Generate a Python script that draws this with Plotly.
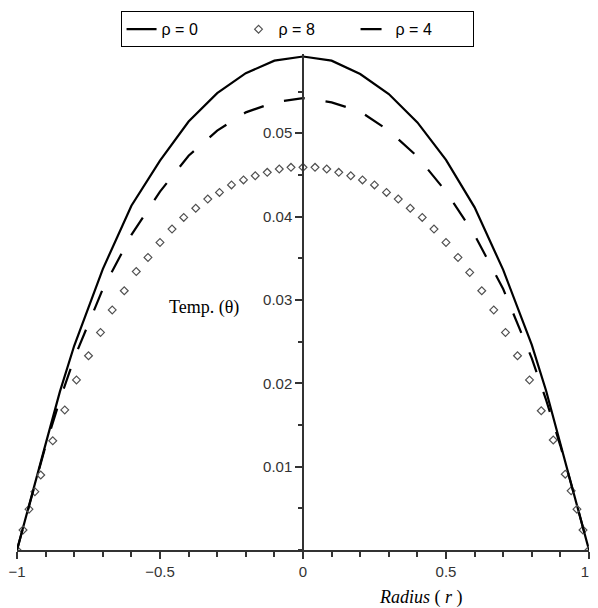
import plotly.graph_objects as go

# Radius samples for the continuous curves
r_line = [-1.0, -0.95, -0.9, -0.85, -0.8, -0.7, -0.6, -0.5, -0.4, -0.3, -0.2, -0.1, 0.0,
          0.1, 0.2, 0.3, 0.4, 0.5, 0.6, 0.7, 0.8, 0.85, 0.9, 0.95, 1.0]

# rho = 0 (solid)
theta_rho0 = [0.0, 0.0065, 0.0127, 0.0190, 0.0245, 0.0337, 0.0413, 0.0467, 0.0514, 0.0548, 0.0572, 0.0587, 0.0592,
              0.0587, 0.0571, 0.0547, 0.0513, 0.0468, 0.0411, 0.0336, 0.0246, 0.0191, 0.0128, 0.0065, 0.0]

# rho = 4 (dashed)
theta_rho4 = [0.0, 0.0064, 0.0125, 0.0180, 0.0230, 0.0313, 0.0378, 0.0430, 0.0473, 0.0503, 0.0525, 0.0537, 0.0542,
              0.0537, 0.0526, 0.0503, 0.0472, 0.0430, 0.0378, 0.0313, 0.0230, 0.0180, 0.0125, 0.0064, 0.0]

# rho = 8 (diamond points)
r_pts = [-1.0, -0.979, -0.958, -0.9375, -0.917, -0.875, -0.833, -0.792, -0.75, -0.708, -0.667, -0.625,
         -0.583, -0.542, -0.5, -0.458, -0.417, -0.375, -0.333, -0.292, -0.25, -0.208, -0.167, -0.125,
         -0.083, -0.042, 0.0, 0.042, 0.083, 0.125, 0.167, 0.208, 0.25, 0.292, 0.333, 0.375, 0.417,
         0.458, 0.5, 0.542, 0.583, 0.625, 0.667, 0.708, 0.75, 0.792, 0.833, 0.875, 0.917, 0.9375,
         0.958, 0.979, 1.0]
theta_rho8 = [0.0, 0.0024, 0.0049, 0.0070, 0.0090, 0.0131, 0.0168, 0.0204, 0.0233, 0.0261, 0.0288, 0.0311,
              0.0334, 0.0351, 0.0369, 0.0385, 0.0399, 0.0410, 0.0421, 0.0429, 0.0438, 0.0444, 0.0449, 0.0453,
              0.0457, 0.0459, 0.0459, 0.0459, 0.0457, 0.0453, 0.0449, 0.0444, 0.0438, 0.0429, 0.0421, 0.0410, 0.0399,
              0.0385, 0.0369, 0.0351, 0.0333, 0.0311, 0.0288, 0.0261, 0.0233, 0.0204, 0.0167, 0.0132, 0.0091, 0.0071,
              0.0049, 0.0024, 0.0]

x_tickvals = [-1, -0.5, 0, 0.5, 1]
x_ticktext = ["\u22121", "\u22120.5", "0", "0.5", "1\u2007"]
y_tickvals = [0.01, 0.02, 0.03, 0.04, 0.05]
y_ticktext = ["0.01", "0.02", "0.03", "0.04", "0.05"]

tick_font = dict(family="Liberation Sans Narrow, Liberation Sans, Arial, sans-serif", size=15, color="#333333")

fig = go.Figure()
fig.add_trace(go.Scatter(x=r_line, y=theta_rho0, mode="lines", name="\u03c1 = 0",
                         line=dict(color="#000000", width=2.2)))
fig.add_trace(go.Scatter(x=r_pts, y=theta_rho8, mode="markers", name="\u03c1 = 8",
                         marker=dict(symbol="diamond-open", size=6, color="#505050",
                                     line=dict(width=1.2, color="#505050"))))
fig.add_trace(go.Scatter(x=r_line, y=theta_rho4, mode="lines", name="\u03c1 = 4",
                         line=dict(color="#000000", width=2.2, dash="21px,21px")))

fig.update_layout(
    width=598, height=608,
    margin=dict(l=17, r=1, t=54, b=58),
    paper_bgcolor="white", plot_bgcolor="white",
    showlegend=True,
    hovermode=False,
    legend=dict(orientation="h", x=(122 - 17) / 580, xanchor="left",
                y=(549.7 - 11) / 496, yanchor="top",
                bordercolor="#000000", borderwidth=1,
                font=dict(family="Liberation Sans Narrow, Liberation Sans, Arial, sans-serif", size=16, color="#000000"),
                entrywidth=72, entrywidthmode="pixels",
                bgcolor="white"),
    xaxis=dict(range=[-1, 1], showgrid=False, zeroline=False,
               showline=True, linecolor="#333333", linewidth=1.5,
               tickmode="array", tickvals=x_tickvals, ticktext=x_ticktext,
               ticks="outside", ticklen=7, tickcolor="#333333", tickwidth=1.5,
               tickfont=tick_font, ticklabeloverflow="allow",
               minor=dict(tickmode="linear", tick0=0, dtick=0.1, ticks="outside",
                          ticklen=5, tickcolor="#333333", tickwidth=1.5)),
    yaxis=dict(range=[0, 0.0595], showgrid=False, zeroline=False,
               anchor="free", position=0.5,
               showline=True, linecolor="#333333", linewidth=1.5,
               tickmode="array", tickvals=y_tickvals, ticktext=y_ticktext,
               ticks="outside", ticklen=7, tickcolor="#333333", tickwidth=1.5,
               tickfont=tick_font,
               minor=dict(tickmode="linear", tick0=0, dtick=0.005, ticks="outside",
                          ticklen=4, tickcolor="#333333", tickwidth=1.5)),
    annotations=[
        dict(text="Temp. (\u03b8)", xref="paper", yref="paper",
             x=(207 - 17) / 580, y=(549.7 - 307) / 496, xanchor="center", yanchor="middle",
             showarrow=False,
             font=dict(family="Liberation Serif, Times New Roman, serif", size=18, color="#000000")),
        dict(text="<i>Radius</i> ( <i>r</i> )", xref="paper", yref="paper",
             x=(427 - 17) / 580, y=-(597 - 549.7) / 496, xanchor="center", yanchor="middle",
             showarrow=False,
             font=dict(family="Liberation Serif, Times New Roman, serif", size=18, color="#000000")),
    ],
)

fig.write_html("out.html")
